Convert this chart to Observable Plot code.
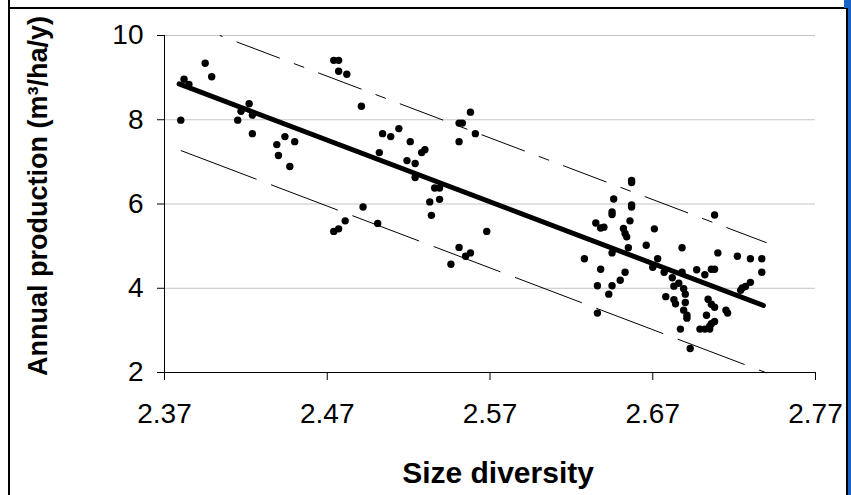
<!DOCTYPE html>
<html><head><meta charset="utf-8">
<script src="https://cdn.jsdelivr.net/npm/d3@7"></script>
<script src="https://cdn.jsdelivr.net/npm/@observablehq/plot@0.6"></script>
<style>
body{margin:0;background:#fff;}
#wrap{position:relative;width:851px;height:495px;overflow:hidden;background:#fff;font-family:"Liberation Sans",Arial,sans-serif;}
#wrap svg{position:absolute;left:0;top:0;}
.b{position:absolute;}
</style></head><body><div id="wrap"></div>
<script>
// Scatter data
const sizeDiversity = [
 2.380,2.382,2.385,2.395,2.399,2.415,2.417,2.422,2.424,2.424,
 2.439,2.444,2.450,2.440,2.447,2.474,2.477,2.477,2.482,2.491,
 2.558,2.551,2.553,2.561,2.551,2.504,2.509,2.514,2.521,2.502,
 2.528,2.530,2.519,2.524,2.524,2.536,2.539,2.533,2.539,2.534,
 2.492,2.481,2.477,2.474,2.501,2.568,2.551,2.558,2.555,2.546,
 2.657,2.657,2.646,2.657,2.657,2.645,2.645,2.656,2.635,2.638,
 2.640,2.652,2.653,2.654,2.671,2.655,2.645,2.666,2.688,2.628,
 2.673,2.670,2.677,2.638,2.653,2.650,2.645,2.636,2.643,2.636,
 2.682,2.686,2.697,2.683,2.689,2.690,2.678,2.683,2.684,2.690,
 2.689,2.691,2.691,2.687,2.693,2.699,2.708,2.710,2.722,2.730,
 2.737,2.737,2.688,2.702,2.706,2.708,2.704,2.706,2.708,2.715,
 2.716,2.703,2.708,2.706,2.705,2.702,2.705,2.725,2.727,2.730,2.724
];
const production = [
 7.99,8.96,8.84,9.34,9.02,7.99,8.20,8.38,8.11,7.67,
 7.41,7.60,7.48,7.15,6.89,9.41,9.41,9.15,9.08,8.32,
 8.18,7.92,7.92,7.67,7.48,7.67,7.60,7.79,7.48,7.22,
 7.22,7.29,7.03,6.96,6.63,6.38,6.38,6.05,6.11,5.73,
 5.93,5.60,5.41,5.35,5.54,5.35,4.97,4.84,4.76,4.57,
 6.56,6.51,6.12,5.98,5.93,5.81,5.75,5.60,5.55,5.43,
 5.45,5.42,5.30,5.22,5.41,4.96,4.84,5.02,4.96,4.70,
 4.70,4.50,4.38,4.45,4.38,4.19,4.06,4.06,3.86,3.41,
 4.25,4.12,4.44,4.05,3.99,3.86,3.80,3.73,3.63,3.66,
 3.48,3.36,3.29,3.03,2.57,3.03,5.74,4.84,4.76,4.70,
 4.70,4.38,4.38,4.32,4.45,4.45,3.74,3.62,3.55,3.48,
 3.41,3.36,3.21,3.16,3.10,3.03,3.03,4.01,4.04,4.14,3.95
];
// Regression line and prediction band end points
const trendX = [2.379, 2.738];
const trendY = [8.85, 3.59];
const upperX = [2.404, 2.740];
const upperY = [10.0, 5.08];
const lowerX = [2.380, 2.740];
const lowerY = [7.27, 1.99];
// Axis ticks and titles
const xTicks = [2.37, 2.47, 2.57, 2.67, 2.77];
const yTicks = [2, 4, 6, 8, 10];
const xTitle = "Size diversity";
const yTitle = "Annual production (m³/ha/y)";

const points = sizeDiversity.map((x, i) => ({x, y: production[i]}));
const toPts = (xs, ys) => xs.map((x, i) => ({x, y: ys[i]}));
const trend = toPts(trendX, trendY);
const upper = toPts(upperX, upperY);
const lower = toPts(lowerX, lowerY);

const font = '"Liberation Sans", Arial, sans-serif';
const lowerDash = "81,15.5,71.5,15.5,71.5,15.5,71.5,15.5,71.5,15.5,71.5,15.5,71.5,15.5,71.5,15.5,71.5,15.5";

const chart = Plot.plot({
  width: 851, height: 495,
  marginLeft: 164, marginRight: 36, marginTop: 35, marginBottom: 123,
  x: {domain: [2.37, 2.77]},
  y: {domain: [2, 10]},
  style: {fontFamily: font, background: "transparent", color: "#000"},
  marks: [
    Plot.gridY(yTicks.filter(t => t > 2), {stroke: "#c4c4c4", strokeOpacity: 1, strokeWidth: 1}),
    Plot.ruleX([xTicks[0]], {stroke: "#000", strokeWidth: 1}),
    Plot.ruleY([yTicks[0]], {stroke: "#000", strokeWidth: 1}),
    Plot.axisY(yTicks, {tickSize: 7, tickPadding: 14, fontSize: 28, tickFormat: d => String(d), label: null, stroke: "#000", fill: "#000"}),
    Plot.axisX(xTicks, {tickSize: 8, tickPadding: 23, fontSize: 28, tickFormat: d3.format(".2f"), label: null, stroke: "#000", fill: "#000"}),
    Plot.line(lower, {x: "x", y: "y", stroke: "#000", strokeWidth: 1, strokeDasharray: lowerDash, strokeLinecap: "butt"}),
    Plot.line(upper, {x: "x", y: "y", stroke: "#000", strokeWidth: 1, strokeDasharray: "46.3,15,11,15", strokeDashoffset: 69.4, strokeLinecap: "butt"}),
    Plot.dot(points, {x: "x", y: "y", r: 3.7, fill: "#000", stroke: null}),
    Plot.line(trend, {x: "x", y: "y", stroke: "#000", strokeWidth: 5, strokeLinecap: "round"}),
    Plot.text([yTitle], {frameAnchor: "left", textAnchor: "middle", rotate: -90, dx: -126, dy: -8, fontSize: 27, fontWeight: "bold", fill: "#000"}),
    Plot.text([xTitle], {frameAnchor: "bottom", textAnchor: "middle", dx: 8, dy: 110, fontSize: 30, fontWeight: "bold", fill: "#000"})
  ]
});
const wrap = document.getElementById("wrap");
wrap.appendChild(chart);
// window frame decoration
const frame = [
  {l: 8, t: 0, w: 1.5, h: 495, c: "#000"},
  {l: 8, t: 7, w: 839, h: 2, c: "#000"},
  {l: 846, t: 7, w: 1.5, h: 488, c: "#000"},
  {l: 848, t: 0, w: 3, h: 495, c: "#1a63c6"},
  {l: 844, t: 0, w: 7, h: 8, c: "#1a63c6"}
];
frame.forEach(f => {
  const d = document.createElement("div");
  d.className = "b";
  d.style.cssText = `left:${f.l}px;top:${f.t}px;width:${f.w}px;height:${f.h}px;background:${f.c}`;
  wrap.appendChild(d);
});
</script>
</body></html>
